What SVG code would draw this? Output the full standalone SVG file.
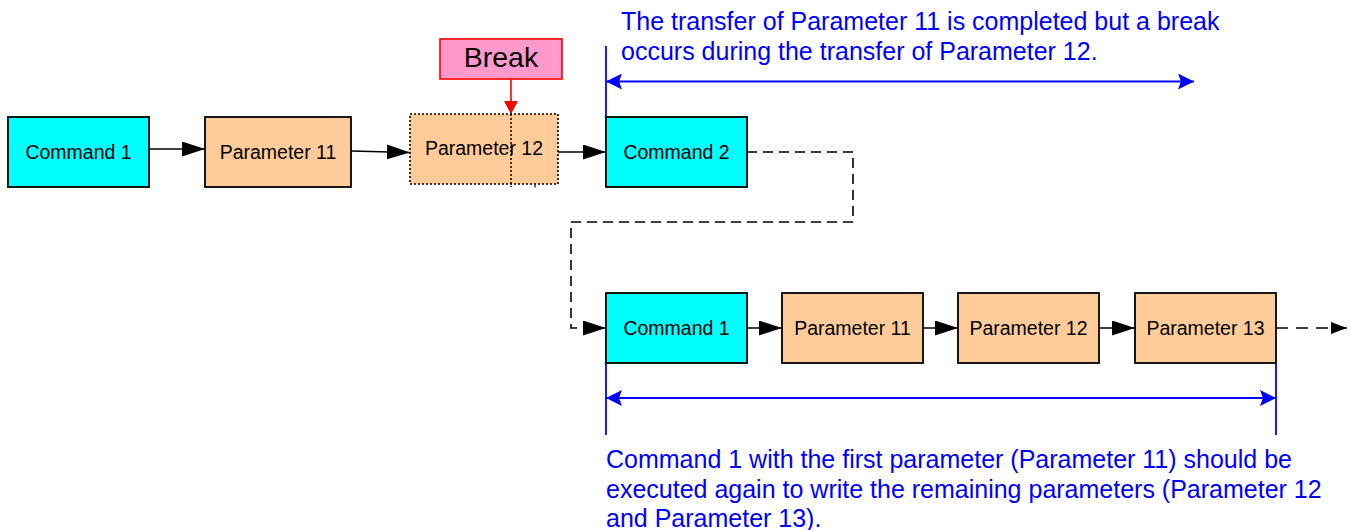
<svg xmlns="http://www.w3.org/2000/svg" width="1351" height="530" viewBox="0 0 1351 530">
<defs>
<style>
.cmd{fill:#00FFFF;stroke:#000;stroke-width:1.8}
.par{fill:#FFCC99;stroke:#000;stroke-width:1.8}
.lbl{font-family:"Liberation Sans",Arial,sans-serif;font-size:19.5px;fill:#000;text-anchor:middle}
.note{font-family:"Liberation Sans",Arial,sans-serif;font-size:25px;fill:#0000FF}
.conn{stroke:#000;stroke-width:1.6;fill:none}
.dash{stroke:#000;stroke-width:1.6;fill:none;stroke-dasharray:10 6}
.blue{stroke:#0000FF;stroke-width:1.8;fill:none}
</style>
<marker id="ah" markerUnits="userSpaceOnUse" markerWidth="24" markerHeight="16" refX="23" refY="7.5" orient="auto">
<path d="M0,0 L23,7.5 L0,15 Z" fill="#000"/>
</marker>
<marker id="ahs" markerUnits="userSpaceOnUse" markerWidth="18" markerHeight="14" refX="16" refY="6" orient="auto">
<path d="M0,0 L16,6 L0,12 Z" fill="#000"/>
</marker>
<marker id="bh" markerUnits="userSpaceOnUse" markerWidth="18" markerHeight="16" refX="16" refY="8" orient="auto-start-reverse">
<path d="M0,0 L16,8 L0,16 L3,8 Z" fill="#0000FF"/>
</marker>
<marker id="rh" markerUnits="userSpaceOnUse" markerWidth="16" markerHeight="16" refX="13" refY="7" orient="auto">
<path d="M0,0 L13,7 L0,14 Z" fill="#FF0000"/>
</marker>
</defs>

<g id="connectors">
<line class="conn" x1="149" y1="149" x2="205" y2="149" marker-end="url(#ah)"/>
<line class="conn" x1="351" y1="151" x2="410" y2="152.5" marker-end="url(#ah)"/>
<line class="conn" x1="558" y1="152" x2="606" y2="152" marker-end="url(#ah)"/>
<polyline class="dash" points="747,152 853,152 853,222 571,222 571,328 606,328" marker-end="url(#ah)"/>
<line class="conn" x1="747" y1="328" x2="782" y2="328" marker-end="url(#ah)"/>
<line class="conn" x1="923" y1="328" x2="958" y2="328" marker-end="url(#ah)"/>
<line class="conn" x1="1099" y1="328" x2="1135" y2="328" marker-end="url(#ah)"/>
<line class="conn" x1="1276" y1="328" x2="1347" y2="328" style="stroke-dasharray:12 8" marker-end="url(#ahs)"/>
<line x1="511" y1="79" x2="511" y2="114" stroke="#FF0000" stroke-width="1.6" marker-end="url(#rh)"/>
<line class="blue" x1="606" y1="46" x2="606" y2="117"/>
<line class="blue" x1="606" y1="81.5" x2="1194" y2="81.5" marker-start="url(#bh)" marker-end="url(#bh)"/>
<line class="blue" x1="606" y1="363" x2="606" y2="435"/>
<line class="blue" x1="1276" y1="363" x2="1276" y2="435"/>
<line class="blue" x1="606" y1="398" x2="1276" y2="398" marker-start="url(#bh)" marker-end="url(#bh)"/>
</g>

<g id="n-cmd1-top">
<rect class="cmd" x="8" y="117" width="141" height="70"/>
<text class="lbl" x="78.5" y="158.5">Command 1</text>
</g>
<g id="n-par11-top">
<rect class="par" x="205" y="117" width="146" height="70"/>
<text class="lbl" x="278" y="158.5">Parameter 11</text>
</g>
<g id="n-par12-top">
<rect x="410" y="114" width="148" height="70" fill="#FFCC99" stroke="#000" stroke-width="1.6" stroke-dasharray="2 2"/>
<text class="lbl" x="484" y="155">Parameter 12</text>
<line x1="511" y1="114" x2="511" y2="187" stroke="#000" stroke-width="1.5" stroke-dasharray="2 2"/>
<line x1="535" y1="184.5" x2="535" y2="187.5" stroke="#000" stroke-width="1.2"/>
</g>
<g id="n-break">
<rect x="440" y="39" width="122" height="40" fill="#FF99CC" stroke="#FF0000" stroke-width="1.6"/>
<text x="501" y="67" font-family="'Liberation Sans',Arial,sans-serif" font-size="28.5" text-anchor="middle" fill="#000">Break</text>
</g>
<g id="n-cmd2">
<rect class="cmd" x="606" y="117" width="141" height="70"/>
<text class="lbl" x="676.5" y="158.5">Command 2</text>
</g>
<g id="n-cmd1-bot">
<rect class="cmd" x="606" y="293" width="141" height="70"/>
<text class="lbl" x="676.5" y="335">Command 1</text>
</g>
<g id="n-par11-bot">
<rect class="par" x="782" y="293" width="141" height="70"/>
<text class="lbl" x="852.5" y="335">Parameter 11</text>
</g>
<g id="n-par12-bot">
<rect class="par" x="958" y="293" width="141" height="70"/>
<text class="lbl" x="1028.5" y="335">Parameter 12</text>
</g>
<g id="n-par13-bot">
<rect class="par" x="1135" y="293" width="141" height="70"/>
<text class="lbl" x="1205.5" y="335">Parameter 13</text>
</g>

<g id="note-top">
<text class="note" x="621" y="30">The transfer of Parameter 11 is completed but a break</text>
<text class="note" x="621" y="60">occurs during the transfer of Parameter 12.</text>
</g>
<g id="note-bottom">
<text class="note" x="606" y="468">Command 1 with the first parameter (Parameter 11) should be</text>
<text class="note" x="606" y="498">executed again to write the remaining parameters (Parameter 12</text>
<text class="note" x="606" y="527">and Parameter 13).</text>
</g>
</svg>
